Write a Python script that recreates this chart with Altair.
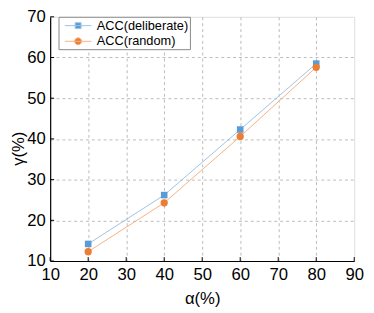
import altair as alt
import pandas as pd

alpha = [20, 40, 60, 80]
acc_deliberate = [14.2, 26.2, 42.3, 58.5]
acc_random = [12.3, 24.3, 40.6, 57.6]
series = ["ACC(deliberate)", "ACC(random)"]
marker_colors = ["#5B9BD5", "#ED7D31"]
line_colors = ["#9DC3E6", "#F4B183"]
x_ticks = [10, 20, 30, 40, 50, 60, 70, 80, 90]
y_ticks = [10, 20, 30, 40, 50, 60, 70]

rows = []
for a, v in zip(alpha, acc_deliberate):
    rows.append({"alpha": a, "gamma": v, "series": series[0]})
for a, v in zip(alpha, acc_random):
    rows.append({"alpha": a, "gamma": v, "series": series[1]})
df = pd.DataFrame(rows)

FONT = "Liberation Sans"

sq_path = "M-1.8,0L1.8,0M-0.4,-0.4L0.4,-0.4L0.4,0.4L-0.4,0.4Z"
ci_path = ("M-1.8,0L1.8,0M0.47,0A0.47,0.47 0 1,1 -0.47,0"
           "A0.47,0.47 0 1,1 0.47,0Z")

x_axis = alt.Axis(values=x_ticks, title="α(%)", labelOverlap=False,
                  gridOpacity=alt.condition("datum.value == 90 || datum.value == 10", alt.value(0), alt.value(1)),
                  labelPadding=6, titleY=38, titleBaseline="middle")
y_axis = alt.Axis(values=y_ticks, title="γ(%)", labelOverlap=False,
                  gridOpacity=alt.condition("datum.value == 70 || datum.value == 10", alt.value(0), alt.value(1)),
                  labelPadding=5, titleAngle=-90, titleX=-32,
                  titleY=134, titleAlign="center", titleBaseline="middle")
x_scale = alt.Scale(domain=[10, 90], nice=False)
y_scale = alt.Scale(domain=[10, 70], nice=False)

def X():
    return alt.X("alpha:Q", scale=x_scale, axis=x_axis)

def Y():
    return alt.Y("gamma:Q", scale=y_scale, axis=y_axis)

base = alt.Chart(df)

lines = base.mark_line(strokeWidth=1).encode(
    x=X(), y=Y(),
    stroke=alt.Stroke("series:N", scale=alt.Scale(domain=series, range=line_colors)),
    detail="series:N",
)

pts_d = base.transform_filter(alt.datum.series == series[0]).mark_point(
    filled=True, opacity=1, size=45, strokeWidth=0).encode(
    x=X(), y=Y(),
    fill=alt.Fill("series:N", scale=alt.Scale(domain=series, range=marker_colors)),
    shape=alt.value("square"),
)
pts_r = base.transform_filter(alt.datum.series == series[1]).mark_point(
    filled=True, opacity=1, size=55, strokeWidth=0).encode(
    x=X(), y=Y(),
    fill=alt.Fill("series:N", scale=alt.Scale(domain=series, range=marker_colors)),
    shape=alt.value("circle"),
)

legend = alt.Legend(title=None, orient="none", legendX=8.5, legendY=0,
                    strokeColor="#888888", padding=1, rowPadding=1,
                    labelFont=FONT, labelFontSize=13, labelColor="black",
                    symbolSize=225, symbolStrokeWidth=1, symbolOffset=11,
                    labelOffset=11, fillColor="white")

leg_layer = base.transform_filter("false").mark_point(filled=True, opacity=1).encode(
    x=X(), y=Y(),
    stroke=alt.Stroke("series:N", scale=alt.Scale(domain=series, range=line_colors), legend=legend),
    fill=alt.Fill("series:N", scale=alt.Scale(domain=series, range=marker_colors), legend=legend),
    shape=alt.Shape("series:N", scale=alt.Scale(domain=series, range=[sq_path, ci_path]), legend=legend),
)

tick_x = alt.Chart(pd.DataFrame({"alpha": x_ticks})).mark_rule(color="black", strokeWidth=1).encode(
    x=X(), y=alt.value(249), y2=alt.value(245))
tick_y = alt.Chart(pd.DataFrame({"gamma": y_ticks})).mark_rule(color="black", strokeWidth=1).encode(
    y=Y(), x=alt.value(0), x2=alt.value(4))

chart = alt.layer(lines, pts_d, pts_r, tick_x, tick_y, leg_layer).properties(
    width=310, height=249,
    autosize=alt.AutoSizeParams(type="none"),
    padding={"left": 43, "top": 6, "right": 12, "bottom": 49},
).configure_view(stroke=None).configure(background="white").configure_axis(
    grid=True, gridDash=[3, 3], gridColor="#BBBBBB", ticks=False,
    labelFontSize=17, labelOverlap=False, labelFlush=False, labelBound=False,
    labelFont=FONT, labelColor="black",
    titleFont=FONT, titleFontSize=17, titleFontWeight="normal", titleColor="black",
    domainColor="black", domainWidth=1.2,
)

chart.save("out.html", embed_options={"renderer": "svg", "actions": False})
